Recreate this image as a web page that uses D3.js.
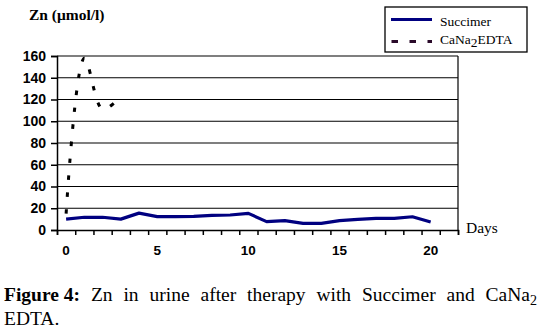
<!DOCTYPE html>
<html>
<head>
  <meta charset="utf-8">
  <script src="https://cdn.jsdelivr.net/npm/d3@7/dist/d3.min.js"></script>
  <style>
    body { margin: 0; background: #fff; }
  </style>
</head>
<body>
<svg width="539" height="333"></svg>

<script>
  // data
  var days = [0, 1, 2, 3, 4, 5, 6, 7, 8, 9, 10, 11, 12, 13, 14, 15, 16, 17, 18, 19, 20];
  var succimer = [10, 11.7, 11.7, 10, 15.5, 12.3, 12.3, 12.5, 13.5, 13.8, 15.3, 7.7, 8.6, 6.1, 6.1, 8.6, 9.8, 10.7, 10.7, 12.2, 7.4];
  var edtaDays = [0, 1, 2, 3];
  var edta = [15, 158, 111, 123];
  var yTicks = [0, 20, 40, 60, 80, 100, 120, 140, 160];
  var xLabels = [0, 5, 10, 15, 20];
  var nCategories = 22;

  var svg = d3.select("svg");
  // plot area
  var plotLeft = 57, plotRight = 458, plotTop = 56, plotBottom = 230;

  var x = d3.scaleLinear().domain([-0.5, nCategories - 0.5]).range([plotLeft, plotRight]);
  var y = d3.scaleLinear().domain([0, 160]).range([plotBottom, plotTop]);

  // gridlines
  svg.selectAll(".grid")
    .data(yTicks.filter(function(d) { return d > 0; }))
    .enter().append("line")
    .attr("x1", plotLeft).attr("x2", plotRight)
    .attr("y1", function(d) { return y(d); })
    .attr("y2", function(d) { return y(d); })
    .style("stroke", "#000").style("stroke-width", 1.2);

  // right border
  svg.append("line")
    .attr("x1", plotRight).attr("x2", plotRight).attr("y1", plotTop).attr("y2", plotBottom)
    .style("stroke", "#000").style("stroke-width", 1.2);

  // y axis
  var yAxis = svg.append("g")
    .attr("transform", "translate(" + plotLeft + ",0)")
    .call(d3.axisLeft(y).tickValues(yTicks).tickSize(6).tickPadding(5));
  yAxis.select(".domain").style("stroke", "#000").style("stroke-width", 1.5);
  yAxis.selectAll(".tick line").style("stroke-width", 1.5);
  yAxis.selectAll("text")
    .style("font-family", "'Liberation Sans', Arial, sans-serif")
    .style("font-weight", "bold").style("font-size", "14px").style("fill", "#000");

  // x axis: ticks between categories
  var tickPos = [];
  for (var i = 0; i <= nCategories; i++) tickPos.push(i - 0.5);
  var xAxis = svg.append("g")
    .attr("transform", "translate(0," + plotBottom + ")")
    .call(d3.axisBottom(x).tickValues(tickPos).tickSize(5).tickFormat(""));
  xAxis.select(".domain").style("stroke", "#000").style("stroke-width", 1.5);
  xAxis.selectAll(".tick line").style("stroke-width", 1.5);

  svg.selectAll(".xlab")
    .data(xLabels)
    .enter().append("text")
    .attr("x", function(d) { return x(d); })
    .attr("y", 255)
    .attr("text-anchor", "middle")
    .style("font-family", "'Liberation Sans', Arial, sans-serif")
    .style("font-weight", "bold").style("font-size", "13.5px")
    .text(function(d) { return d; });

  // series
  var line = d3.line()
    .x(function(d) { return x(d[0]); })
    .y(function(d) { return y(d[1]); });

  svg.append("path")
    .datum(days.map(function(d, i) { return [d, succimer[i]]; }))
    .attr("d", line)
    .style("fill", "none").style("stroke", "#000080").style("stroke-width", 3.2)
    .style("stroke-linejoin", "round");

  svg.append("path")
    .datum(edtaDays.map(function(d, i) { return [d, edta[i]]; }))
    .attr("d", line.curve(d3.curveCatmullRom.alpha(0.5)))
    .style("fill", "none").style("stroke", "#000").style("stroke-width", 3)
    .style("stroke-dasharray", "4.5,12.5");

  // axis titles
  svg.append("text")
    .attr("x", 29).attr("y", 20)
    .style("font-family", "'Liberation Serif', 'Times New Roman', serif")
    .style("font-weight", "bold").style("font-size", "15.5px")
    .text("Zn (μmol/l)");

  svg.append("text")
    .attr("x", 466).attr("y", 233)
    .style("font-family", "'Liberation Serif', 'Times New Roman', serif")
    .style("font-size", "15.5px")
    .text("Days");

  // legend
  var legend = svg.append("g");
  legend.append("rect")
    .attr("x", 385).attr("y", 7).attr("width", 142).attr("height", 45)
    .style("fill", "#fff").style("stroke", "#000").style("stroke-width", 1.3);
  legend.append("line")
    .attr("x1", 391).attr("x2", 432).attr("y1", 19.5).attr("y2", 19.5)
    .style("stroke", "#000080").style("stroke-width", 3.2);
  legend.append("line")
    .attr("x1", 391.5).attr("x2", 432).attr("y1", 41.5).attr("y2", 41.5)
    .style("stroke", "#2a0a2a").style("stroke-width", 3)
    .style("stroke-dasharray", "6.5,11.5");
  legend.append("text")
    .attr("x", 440).attr("y", 26)
    .style("font-family", "'Liberation Serif', 'Times New Roman', serif")
    .style("font-size", "13.5px")
    .text("Succimer");
  var t2 = legend.append("text")
    .attr("x", 440).attr("y", 44)
    .style("font-family", "'Liberation Serif', 'Times New Roman', serif")
    .style("font-size", "13.5px");
  t2.append("tspan").text("CaNa");
  t2.append("tspan").attr("dy", 3).style("font-size", "13.5px").text("2");
  t2.append("tspan").attr("dy", -3).text("EDTA");

  // caption, justified line
  var capFont = "'Liberation Serif', 'Times New Roman', serif";
  var words = [
    { t: "Figure 4:", bold: true },
    { t: "Zn" }, { t: "in" }, { t: "urine" }, { t: "after" }, { t: "therapy" },
    { t: "with" }, { t: "Succimer" }, { t: "and" }, { t: "CaNa", sub: "2" }
  ];
  var capLeft = 4, capRight = 537, capY = 301;
  var nodes = words.map(function(w) {
    var el = svg.append("text")
      .attr("y", capY)
      .style("font-family", capFont)
      .style("font-size", "19.5px")
      .style("font-weight", w.bold ? "bold" : "normal");
    el.append("tspan").text(w.t);
    if (w.sub) el.append("tspan").attr("dy", 4).style("font-size", "14px").text(w.sub);
    return el;
  });
  var widths = nodes.map(function(n) { return n.node().getComputedTextLength(); });
  var gap = (capRight - capLeft - d3.sum(widths)) / (nodes.length - 1);
  var cx = capLeft;
  nodes.forEach(function(n, i) {
    n.attr("x", cx);
    cx += widths[i] + gap;
  });

  svg.append("text")
    .attr("x", capLeft).attr("y", 325)
    .style("font-family", capFont).style("font-size", "19.5px")
    .text("EDTA.");
</script>
</body>
</html>
